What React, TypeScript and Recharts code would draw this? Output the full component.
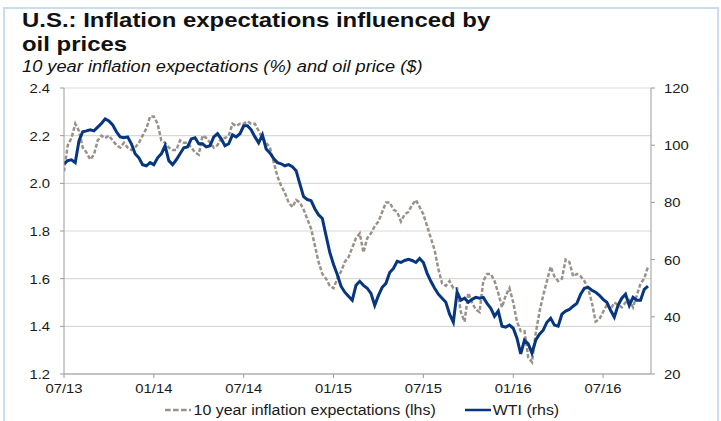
import { LineChart, Line, XAxis, YAxis, CartesianGrid } from "recharts";

// quarter-month sampling grid, 0 = Jul 2013
const MONTHS = Array.from({ length: 157 }, (_, i) => i * 0.25);

const INFLATION = [
  2.05, 2.16, 2.19, 2.25, 2.22, 2.15, 2.13, 2.1, 2.12, 2.18,
  2.2, 2.19, 2.2, 2.18, 2.16, 2.15, 2.17, 2.15, 2.14, 2.15,
  2.17, 2.2, 2.23, 2.28, 2.28, 2.25, 2.18, 2.17, 2.15, 2.14,
  2.14, 2.18, 2.17, 2.17, 2.15, 2.13, 2.12, 2.2, 2.19, 2.17,
  2.15, 2.16, 2.19, 2.19, 2.2, 2.25, 2.24, 2.25, 2.25, 2.26,
  2.25, 2.25, 2.22, 2.19, 2.17, 2.15, 2.09, 2.03, 1.99, 1.96,
  1.92, 1.9, 1.93, 1.92, 1.89, 1.85, 1.81, 1.74, 1.67, 1.62,
  1.6, 1.57, 1.56, 1.6, 1.63, 1.67, 1.69, 1.73, 1.77, 1.79,
  1.71, 1.77, 1.79, 1.82, 1.84, 1.88, 1.92, 1.92, 1.89, 1.88,
  1.84, 1.87, 1.88, 1.91, 1.93, 1.9, 1.87, 1.82, 1.77, 1.72,
  1.64, 1.58, 1.57, 1.59, 1.56, 1.56, 1.46, 1.42, 1.54, 1.5,
  1.47, 1.46, 1.59, 1.62, 1.62, 1.59, 1.54, 1.48, 1.53, 1.56,
  1.5, 1.42, 1.38, 1.38, 1.27, 1.25, 1.37, 1.46, 1.53, 1.59,
  1.65, 1.61, 1.59, 1.6, 1.68, 1.67, 1.61, 1.62, 1.61, 1.59,
  1.56, 1.5, 1.42, 1.43, 1.46, 1.49, 1.47, 1.5, 1.49, 1.48,
  1.5, 1.51, 1.48, 1.53, 1.58, 1.6, 1.65,
];

const WTI = [
  93.5, 94.6, 94.9, 93.9, 101.5, 104.7, 105, 105.4, 105, 106.3,
  107.6, 109.2, 108.5, 107.1, 104.7, 102.9, 102.6, 102.9, 100.5, 97,
  95.6, 93.2, 92.8, 93.9, 93.2, 95.6, 97, 99.8, 94.6, 93.2,
  94.9, 97, 99.1, 99.4, 102.2, 102.6, 100.5, 100.5, 99.4, 99.8,
  102.9, 104, 102.2, 99.8, 100.5, 103.6, 102.9, 104, 106.8, 106.8,
  105.4, 102.9, 100.8, 103.6, 98.7, 97.3, 95.3, 93.9, 93.5, 92.8,
  93.2, 92.5, 91.1, 86.5, 82, 81, 80.6, 77.8, 75.7, 74.4,
  68.4, 62.5, 58.3, 54.8, 50.7, 48.6, 47.2, 45.8, 51, 52.4,
  51, 50, 48.2, 44, 47.5, 50.3, 51.7, 55.5, 56.9, 59.4,
  59, 59.7, 60.1, 59.7, 59, 60.4, 59, 55.2, 52.4, 50,
  47.9, 46.5, 45.1, 40.9, 38.1, 48.6, 45.8, 46.5, 45.1, 46.1,
  46.8, 46.5, 46.8, 44.7, 43, 40.2, 42, 36.7, 36.4, 37.1,
  36, 32.5, 27, 31.8, 30.5, 27.3, 31.8, 33.9, 35.3, 38.1,
  39.5, 37.1, 36.7, 40.9, 42, 42.6, 43.7, 44.7, 47.9, 50,
  50.3, 49.3, 48.6, 47.5, 46.1, 45.1, 42.3, 39.9, 44, 46.5,
  47.9, 44, 46.8, 45.8, 45.8, 49.6, 50.7,
];

const X_TICKS = [0, 6, 12, 18, 24, 30, 36];
const X_LABELS = ["07/13", "01/14", "07/14", "01/15", "07/15", "01/16", "07/16"];
const LEFT_TICKS = [1.2, 1.4, 1.6, 1.8, 2.0, 2.2, 2.4];
const RIGHT_TICKS = [20, 40, 60, 80, 100, 120];

const FONT = "'Liberation Sans', Arial, sans-serif";
const GRAY = "#9a928a";
const NAVY = "#06367f";
const STRETCH = 1.14; // the source image is a bit wide

function Tick(props: any) {
  const { x, y, payload, anchor, dx, dy, fmt } = props;
  return (
    <g transform={`translate(${x + dx},${y + dy}) scale(${STRETCH},1)`}>
      <text x={0} y={0} textAnchor={anchor} fontSize={13} fontFamily={FONT} fill="#1a1a1a">
        {fmt(payload.value)}
      </text>
    </g>
  );
}

export default function App() {
  const data = MONTHS.map((m, i) => ({ m, infl: INFLATION[i], wti: WTI[i] }));

  return (
    <div
      style={{
        position: "absolute",
        left: 0,
        top: 0,
        width: 721,
        height: 421,
        background: "#fff",
        overflow: "hidden",
        fontFamily: FONT,
      }}
    >
      <div
        style={{
          position: "absolute",
          left: 3,
          top: 7,
          width: 712,
          height: 430,
          border: "2px solid #c9dcf2",
        }}
      />
      <div
        style={{
          position: "absolute",
          left: 22,
          top: 8,
          fontSize: 21,
          fontWeight: "bold",
          lineHeight: "24px",
          color: "#111",
          whiteSpace: "nowrap",
          transform: `scaleX(${STRETCH})`,
          transformOrigin: "left top",
        }}
      >
        U.S.: Inflation expectations influenced by
        <br />
        oil prices
      </div>
      <div
        style={{
          position: "absolute",
          left: 22,
          top: 58,
          fontSize: 16,
          fontStyle: "italic",
          color: "#111",
          whiteSpace: "nowrap",
          transform: `scaleX(${STRETCH})`,
          transformOrigin: "left top",
        }}
      >
        10 year inflation expectations (%) and oil price ($)
      </div>

      <div style={{ position: "absolute", left: 0, top: 0 }}>
        <LineChart
          width={721}
          height={421}
          data={data}
          margin={{ top: 88, right: 20, left: 24, bottom: 27 }}
        >
          <CartesianGrid
            yAxisId="left"
            vertical={false}
            stroke="#d9d9d9"
            strokeWidth={1.2}
          />
          <XAxis
            dataKey="m"
            type="number"
            domain={[0, 39.2]}
            ticks={X_TICKS}
            stroke="#9a9a9a"
            tick={
              <Tick
                anchor="middle"
                dx={0}
                dy={13}
                fmt={(v: number) => X_LABELS[X_TICKS.indexOf(v)] ?? ""}
              />
            }
            tickSize={4}
            height={20}
            allowDataOverflow
          />
          <YAxis
            yAxisId="left"
            domain={[1.2, 2.4]}
            ticks={LEFT_TICKS}
            stroke="#9a9a9a"
            tick={<Tick anchor="end" dx={-8} dy={5} fmt={(v: number) => v.toFixed(1)} />}
            tickSize={4}
            width={40}
            allowDataOverflow
          />
          <YAxis
            yAxisId="right"
            orientation="right"
            domain={[20, 120]}
            ticks={RIGHT_TICKS}
            stroke="#9a9a9a"
            tick={<Tick anchor="start" dx={7} dy={5} fmt={(v: number) => String(v)} />}
            tickSize={4}
            width={50}
            allowDataOverflow
          />
          <Line
            yAxisId="left"
            dataKey="infl"
            stroke={GRAY}
            strokeWidth={2.5}
            strokeDasharray="4 2"
            dot={false}
            isAnimationActive={false}
          />
          <Line
            yAxisId="right"
            dataKey="wti"
            stroke={NAVY}
            strokeWidth={3}
            dot={false}
            isAnimationActive={false}
          />
        </LineChart>
      </div>

      <div
        style={{
          position: "absolute",
          left: 165,
          top: 402,
          display: "flex",
          alignItems: "center",
          fontSize: 14,
          color: "#1a1a1a",
          whiteSpace: "nowrap",
          transform: `scaleX(${STRETCH})`,
          transformOrigin: "left top",
        }}
      >
        <svg width={23} height={6}>
          <line x1={0} y1={3} x2={23} y2={3} stroke={GRAY} strokeWidth={2.5} strokeDasharray="5 2" />
        </svg>
        <span style={{ marginLeft: 2 }}>10 year inflation expectations (lhs)</span>
        <svg width={23} height={6} style={{ marginLeft: 26 }}>
          <line x1={0} y1={3} x2={23} y2={3} stroke={NAVY} strokeWidth={2.5} />
        </svg>
        <span style={{ marginLeft: 1 }}>WTI (rhs)</span>
      </div>
    </div>
  );
}
